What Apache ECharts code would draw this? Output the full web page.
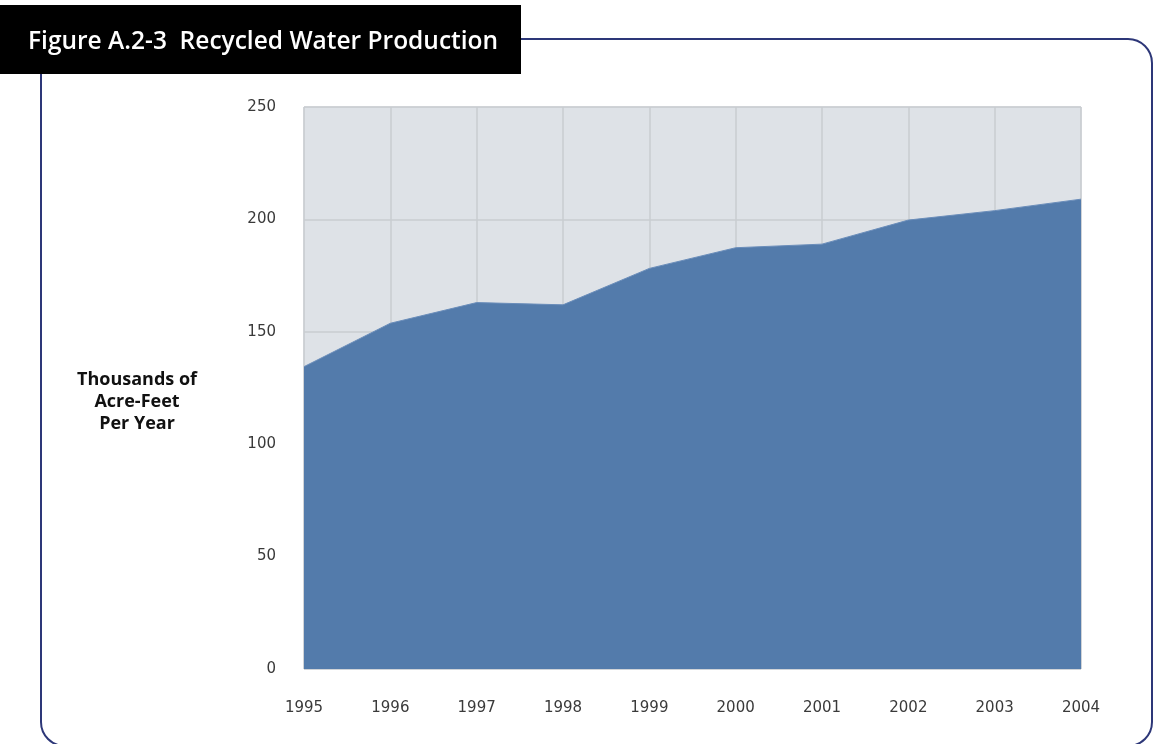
<!DOCTYPE html>
<html>
<head>
<meta charset="utf-8">
<script src="https://cdn.jsdelivr.net/npm/echarts@6/dist/echarts.min.js"></script>
<style>html,body{margin:0;padding:0;background:#fff;}#c{width:1154px;height:744px;}</style>
</head>
<body>
<div id="c"></div>
<script>
const years = ['1995','1996','1997','1998','1999','2000','2001','2002','2003','2004'];
const production = [134.5, 153.8, 163, 162, 178.2, 187.4, 189, 199.7, 203.9, 209];
const yTicks = [0, 50, 100, 150, 200, 250];
const titleText = 'Figure A.2-3  Recycled Water Production';
const yName = 'Thousands of\nAcre-Feet\nPer Year';

const chart = echarts.init(document.getElementById('c'), null, {renderer: 'canvas'});
const font = '"DejaVu Sans", sans-serif';
chart.setOption({
  animation: false,
  grid: {left: 304, right: 73, top: 107, bottom: 75, show: true, backgroundColor: '#dee2e7', borderColor: '#d0d3d7', borderWidth: 1},
  xAxis: {
    type: 'category', data: years, boundaryGap: false,
    axisLine: {show: false}, axisTick: {show: false},
    axisLabel: {color: '#3a3a3a', fontSize: 15, fontFamily: font, margin: 32},
    splitLine: {show: true, lineStyle: {color: '#c9ccd0', width: 1.5}}
  },
  yAxis: {
    type: 'value', min: yTicks[0], max: yTicks[yTicks.length - 1], interval: 50,
    axisLine: {show: false}, axisTick: {show: false},
    axisLabel: {color: '#3a3a3a', fontSize: 15, fontFamily: font, margin: 28},
    splitLine: {show: true, lineStyle: {color: '#c9ccd0', width: 1.5}}
  },
  series: [{
    type: 'line', data: production, symbol: 'none',
    lineStyle: {width: 1, color: '#6a8dba'},
    areaStyle: {color: '#537bab', opacity: 1},
    z: 3
  }],
  graphic: [
    {type: 'rect', shape: {x: 41, y: 39, width: 1111, height: 707, r: 24}, style: {fill: null, stroke: '#2d3778', lineWidth: 2}, z: 1},
    {type: 'rect', shape: {x: 0, y: 5, width: 521, height: 69}, style: {fill: '#000'}, z: 2},
    {type: 'text', x: 28, y: 42, style: {text: titleText, fill: '#fff', font: '600 24.5px "Open Sans", sans-serif', textVerticalAlign: 'middle'}, z: 3},
    {type: 'text', x: 137, y: 402, style: {text: yName, fill: '#111', font: 'bold 18px "Open Sans", sans-serif', textAlign: 'center', textVerticalAlign: 'middle', lineHeight: 22}, z: 3}
  ]
});
</script>
</body>
</html>
